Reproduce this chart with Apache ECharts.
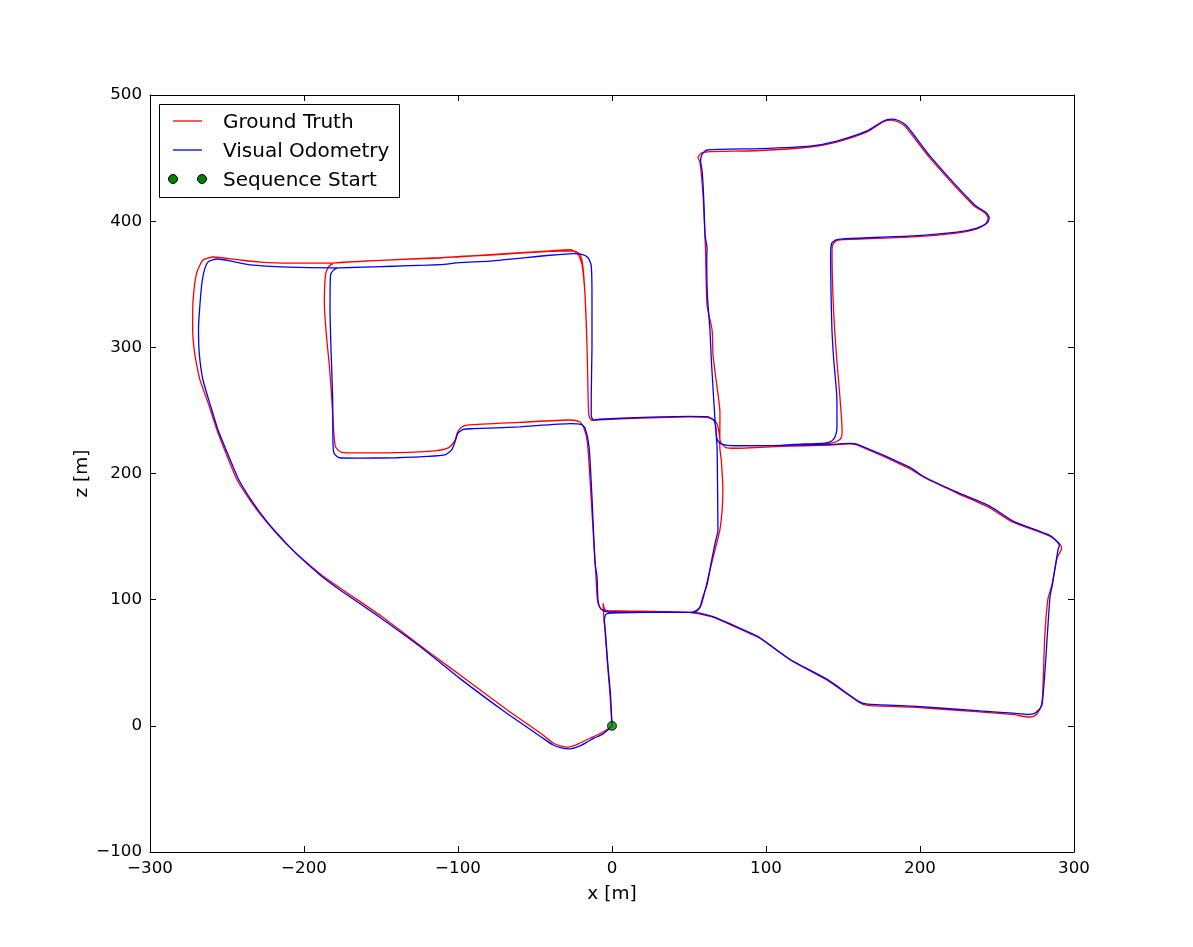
<!DOCTYPE html>
<html>
<head>
<meta charset="utf-8">
<script src="https://cdn.jsdelivr.net/npm/echarts@6/dist/echarts.min.js"></script>
<style>html,body{margin:0;padding:0;background:#fff}#c{width:1193px;height:947px}</style>
</head>
<body>
<div id="c"></div>
<script>
// Ground truth trajectory [x, z] in metres
var gtPath = [
[0,0],[-1.3,25],[-3,50],[-4.5,75],[-5.3,86],[-5.8,97],[-4.6,92],[-1.5,91],[5,91],[20,90.8],[35,90.5],[50,90],[56,89],[66,86],[88,74],[96,69.5],[116,52],[140,36],[160,19],[166,16.2],[195,14.8],[239,11],[260,9],[271,7],[275,8.3],[278,13.5],[279.5,22],[281,70],[283,100],[285.7,112],[289,133],[292,141],[290.5,144.5],[284,150.5],[260,161.6],[245,173],[224,184.5],[204,196],[193,204],[159,222.6],[154,223.5],[140,222.5],[110,221.5],[80,220],[74,220.5],[70.5,225],[69,236],[67,241.5],[62,244.5],[50,245],[20,244],[-8,242.5],[-13,242],[-15,246],[-15.6,266],[-16.2,300],[-17.5,341],[-19,365],[-21,374],[-25,376.5],[-40,376],[-79,373.2],[-99,371.8],[-111.7,370.8],[-150,369],[-180,367],[-184,364],[-186,358],[-186.8,335],[-185.5,310],[-183.5,285],[-182,260],[-180.5,230],[-179.5,221],[-176,217],[-165,216.3],[-140,216.5],[-115,218],[-106,220.5],[-102,226],[-100.5,232],[-98,236.5],[-93,238.5],[-60,240.5],[-27,242.4],[-21,241],[-18.5,237],[-16,225],[-14,190],[-12.3,155],[-10.5,120],[-9.5,100],[-8,94],[-5,91.3],[0,90.8],[20,90.5],[40,90.2],[50,90],[54,90.3],[56,92],[58,96],[60,105],[63.6,123.5],[67,140],[70,155],[71.5,171],[72,187],[71,210],[70,221],[70.1,248],[67.5,275],[65.6,294],[65,313.7],[61.7,333.6],[60.8,375],[60.4,386.7],[59.1,420.7],[57.1,446.9],[55.8,450.5],[58,454],[62,455],[96,456],[128.6,458.8],[146,462.7],[165.6,470.7],[176,478.6],[180.5,480.2],[185,479],[190,475.5],[206.5,450],[234.4,412.8],[242.2,406.5],[244.2,402.5],[242.5,397.5],[236,393.5],[224,390.6],[195.5,387.5],[150,385.3],[145,384],[143,380],[142.9,372],[143.5,340],[144.5,315],[146,290],[148,260.6],[149.4,234.5],[149,229],[146.8,226],[142,224],[130,222.5],[110,221.5],[80,220],[74,220.5],[70.5,225],[69,236],[67,241.5],[62,244.5],[50,245],[20,244],[-8,242.5],[-13,242],[-15,246],[-15.6,266],[-16.2,300],[-17.5,341],[-19.5,366],[-22,373.5],[-27,377.5],[-40,376.5],[-79,373.5],[-99,372],[-111.7,371],[-150,369],[-183,366.8],[-209,366.8],[-228.6,367.6],[-241.6,369.2],[-259,371.6],[-265.6,369.2],[-269.5,359.7],[-271.5,345],[-272.3,328],[-272.3,314],[-271.5,300],[-270,288],[-267.5,274],[-262,255],[-256.5,234.5],[-250,214],[-243.5,195],[-234,177],[-224,161],[-213,146],[-202.6,134],[-188,119],[-174.7,107.7],[-150,87],[-125,64],[-111.7,52],[-98.7,40.3],[-68,12.6],[-45,-7],[-38.3,-13.6],[-33,-16],[-28.6,-16.8],[-24,-15.5],[-20.8,-13.6],[-12,-8.5],[-5.8,-4.9],[-2,-2],[0,0]
];
// Visual odometry trajectory [x, z] in metres
var voPath = [
[0,0],[-1,25],[-2.8,50],[-4.3,75],[-5,84],[-4,88.3],[-1,89.3],[5,89.5],[20,90],[35,90.2],[50,90],[56,89.5],[66,86.3],[88,74.6],[96,69.8],[116,52.4],[140,36.6],[161,18.8],[166,17.2],[195.5,15.6],[239,11.8],[260.4,10],[270,9],[274,9.6],[277,12.5],[279.2,16.5],[281.2,44.3],[284.4,102.1],[286,112],[289.6,139.4],[290.5,143],[288.5,146.5],[284,151.2],[260.4,162.3],[245.5,174],[224,185.2],[203.2,197],[193.5,204.8],[159,223.3],[154,223.8],[140,223],[110,222.3],[80,222],[75,222.3],[70,224],[68,228],[67.5,236],[66,242.5],[62,245],[50,245.3],[20,244.5],[-8,243],[-12,242.5],[-13.5,245.5],[-13.5,260],[-13,300],[-13,340],[-13.5,365],[-15.5,371],[-19,373.5],[-25,374.3],[-40,373],[-79,368.4],[-99,367.2],[-111.7,365.5],[-150,364],[-178,363],[-181,361],[-182.8,357],[-183.1,330],[-182.5,300],[-181.4,260],[-181.2,225],[-180.5,216],[-177,212.5],[-165,212.2],[-140,212.5],[-120,213.5],[-108,215],[-104,219],[-102,225],[-100,232],[-96.5,235],[-90,235.5],[-60,237],[-27,239.5],[-20,239],[-17.5,236],[-14.9,221],[-13,181.4],[-11,129],[-9.7,118],[-9.1,99.7],[-7.5,93],[-4,90.5],[5,90],[20,90],[40,90],[52,90],[55,91.5],[57.1,94.2],[59,102],[61.7,112],[64.5,130],[67,145],[68.8,155.2],[68.5,195],[68.2,221],[67,240],[64.5,290],[63.6,313.7],[62,340],[61.5,370],[61.7,378.7],[60.5,388],[59.5,420],[58.5,440],[57.5,448],[58.5,453],[61.7,456.4],[96,457.5],[128.6,459.5],[146,463.5],[165.6,471.5],[176,479.2],[181,480.8],[186,479.8],[191,476],[207.5,450.2],[235.4,413],[243.2,406.5],[245,402.5],[243.5,398.5],[237,394.5],[224,391.3],[195.5,388.3],[150,386],[145,385],[142.5,382],[142,372],[142.8,315],[144,290],[146,260],[146.1,236.9],[145,229.5],[142.9,226],[138,224],[125,223.4],[110,222.3],[80,222],[75,222.3],[70,224],[68,228],[67.5,236],[66,242.5],[62,245],[50,245.3],[20,244.5],[-8,243],[-12,242.5],[-13.5,245.5],[-13.5,260],[-13,300],[-13,340],[-13.5,365],[-15.5,371],[-19,373.5],[-25,374.3],[-40,373],[-79,368.4],[-99,367.2],[-111.7,365.5],[-150,364],[-183,362.9],[-210,363.5],[-235,365.3],[-248,368.5],[-256.5,370],[-262,368],[-264.5,362],[-266.2,351.8],[-267.5,335],[-268.5,315],[-268,295],[-265.6,274.1],[-261,255],[-255.8,234.5],[-249,214],[-242.5,195.5],[-233.5,177.5],[-223.5,161],[-212.5,146],[-202.5,133.5],[-189,119],[-176.6,107.7],[-152,87],[-126,64],[-113,51.5],[-99.5,38.2],[-69,10.5],[-46,-8.8],[-38.5,-15],[-33,-17.5],[-27.3,-18.2],[-22,-16.5],[-17,-13.5],[-12,-10],[-5.8,-6.4],[-2,-2.5],[0,0]
];
var startPoint = [[0, 0]];
var seriesNames = ['Ground Truth', 'Visual Odometry', 'Sequence Start'];
var xTicks = {min: -300, max: 300, step: 100};
var zTicks = {min: -100, max: 500, step: 100};

var FONT = 'DejaVu Sans';
function fmt(v) { return String(v).replace('-', '\u2212'); }
function axisBase(t, pos, showLabel) {
  return {
    type: 'value', min: t.min, max: t.max, interval: t.step, position: pos,
    axisLine: {show: true, onZero: false, lineStyle: {color: '#000', width: 1}},
    axisTick: {show: true, inside: true, length: 6, lineStyle: {color: '#000', width: 1}},
    splitLine: {show: false},
    axisLabel: {show: showLabel, formatter: fmt, color: '#000', fontSize: 16.7, fontFamily: FONT, margin: 8},
    nameMoveOverlap: false,
    nameTextStyle: {color: '#000', fontSize: 18.5, fontFamily: FONT}
  };
}
var xb = axisBase(xTicks, 'bottom', true);
xb.name = 'x [m]'; xb.nameLocation = 'middle'; xb.nameGap = 33;
var xt = axisBase(xTicks, 'top', false);
var yl = axisBase(zTicks, 'left', true);
yl.name = 'z [m]'; yl.nameLocation = 'middle'; yl.nameGap = 58; yl.nameRotate = 90;
var yr = axisBase(zTicks, 'right', false);

var chart = echarts.init(document.getElementById('c'), null, {renderer: 'canvas'});
chart.setOption({
  animation: false,
  backgroundColor: '#fff',
  grid: {left: 150, top: 95, width: 924, height: 757, containLabel: false},
  xAxis: [xb, xt],
  yAxis: [yl, yr],
  series: [
    {name: seriesNames[0], type: 'line', data: gtPath, showSymbol: false, symbol: 'none', smooth: 0.2,
     lineStyle: {color: '#ff0000', width: 1.3}, silent: true, z: 2},
    {name: seriesNames[1], type: 'line', data: voPath, showSymbol: false, symbol: 'none', smooth: 0.2,
     lineStyle: {color: '#0000ff', width: 1.3}, silent: true, z: 3},
    {name: seriesNames[2], type: 'scatter', data: startPoint, symbol: 'circle', symbolSize: 9,
     itemStyle: {color: '#008000', borderColor: '#000', borderWidth: 1}, silent: true, z: 4}
  ],
  graphic: [
    {type: 'rect', shape: {x: 159.5, y: 104.5, width: 240, height: 93}, style: {fill: '#fff', stroke: '#000', lineWidth: 1}, z: 10},
    {type: 'line', shape: {x1: 173, y1: 121, x2: 202, y2: 121}, style: {stroke: '#ff0000', lineWidth: 1.3}, z: 11},
    {type: 'text', x: 223, y: 123, style: {text: seriesNames[0], font: '20px "DejaVu Sans"', fill: '#000', verticalAlign: 'middle'}, z: 11},
    {type: 'line', shape: {x1: 173, y1: 150, x2: 202, y2: 150}, style: {stroke: '#0000ff', lineWidth: 1.3}, z: 11},
    {type: 'text', x: 223, y: 152, style: {text: seriesNames[1], font: '20px "DejaVu Sans"', fill: '#000', verticalAlign: 'middle'}, z: 11},
    {type: 'circle', shape: {cx: 173, cy: 179, r: 4.5}, style: {fill: '#008000', stroke: '#000', lineWidth: 1}, z: 11},
    {type: 'circle', shape: {cx: 202, cy: 179, r: 4.5}, style: {fill: '#008000', stroke: '#000', lineWidth: 1}, z: 11},
    {type: 'text', x: 223, y: 181, style: {text: seriesNames[2], font: '20px "DejaVu Sans"', fill: '#000', verticalAlign: 'middle'}, z: 11}
  ]
});
</script>
</body>
</html>
